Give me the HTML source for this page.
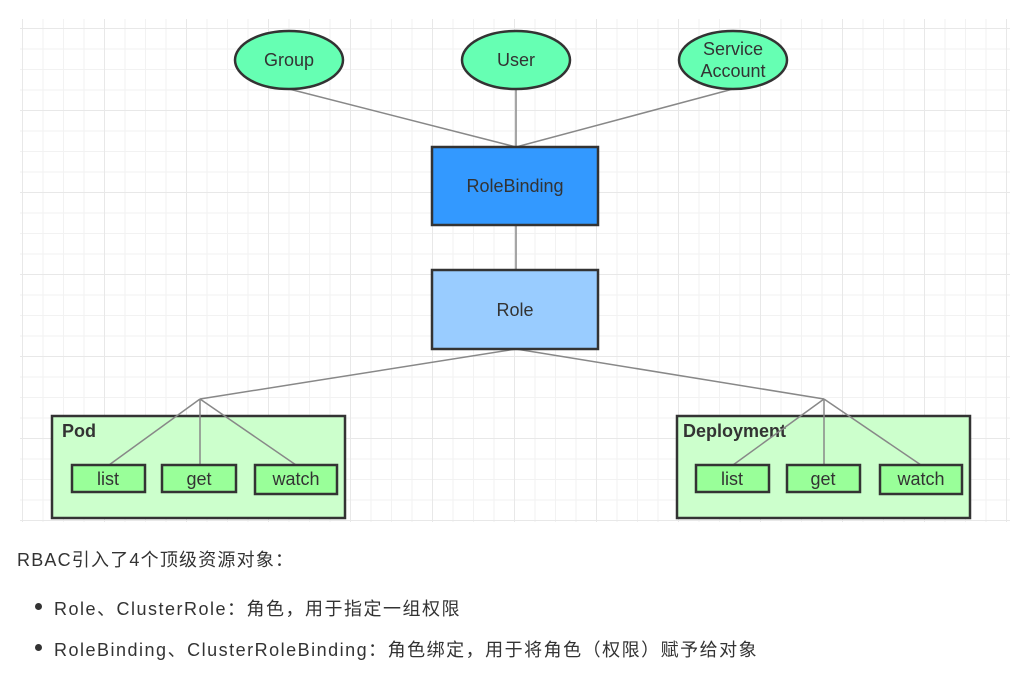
<!DOCTYPE html>
<html><head><meta charset="utf-8"><style>
html,body{margin:0;padding:0;background:#fff;width:1016px;height:682px;overflow:hidden}
.grid{position:absolute;left:20px;top:19px;width:990px;height:503px;
background-image:
linear-gradient(to right,#e8e8e8 1px,transparent 1px),
linear-gradient(to bottom,#e8e8e8 1px,transparent 1px),
linear-gradient(to right,#f2f2f2 1px,transparent 1px),
linear-gradient(to bottom,#f2f2f2 1px,transparent 1px);
background-size:82px 82px,82px 82px,20.5px 20.5px,20.5px 20.5px;
background-position:2px 9px,2px 9px,2px 9px,2px 9px;}
svg{position:absolute;left:0;top:0}
.t{position:absolute;font-family:"Liberation Sans","Noto Sans CJK SC",sans-serif;font-size:18px;letter-spacing:1.2px;color:#333;white-space:nowrap}
.dot{position:absolute;width:7px;height:7px;border-radius:50%;background:#333}
</style></head><body>
<div class="grid"></div>
<svg width="1016" height="682" font-family="Liberation Sans, sans-serif" font-size="18" fill="#333">
<g stroke="#888" stroke-width="1.5" fill="none">
<line x1="289" y1="89" x2="516" y2="147"/>
<line x1="516" y1="89" x2="516" y2="147"/>
<line x1="733" y1="89" x2="516" y2="147"/>
<line x1="516" y1="225" x2="516" y2="270"/>
<line x1="516" y1="349" x2="200" y2="399"/>
<line x1="516" y1="349" x2="824" y2="399"/>
</g>
<ellipse cx="289" cy="60" rx="54" ry="29" fill="#66ffb3" stroke="#333" stroke-width="2.5"/>
<ellipse cx="516" cy="60" rx="54" ry="29" fill="#66ffb3" stroke="#333" stroke-width="2.5"/>
<ellipse cx="733" cy="60" rx="54" ry="29" fill="#66ffb3" stroke="#333" stroke-width="2.5"/>
<text x="289" y="66" text-anchor="middle">Group</text>
<text x="516" y="66" text-anchor="middle">User</text>
<text x="733" y="55" text-anchor="middle">Service</text>
<text x="733" y="77" text-anchor="middle">Account</text>
<rect x="432" y="147" width="166" height="78" fill="#3399ff" stroke="#333" stroke-width="2.5"/>
<text x="515" y="192" text-anchor="middle">RoleBinding</text>
<rect x="432" y="270" width="166" height="79" fill="#99ccff" stroke="#333" stroke-width="2.5"/>
<text x="515" y="316" text-anchor="middle">Role</text>
<rect x="52" y="416" width="293" height="102" fill="#ccffcc" stroke="#333" stroke-width="2.5"/>
<rect x="677" y="416" width="293" height="102" fill="#ccffcc" stroke="#333" stroke-width="2.5"/>
<text x="62" y="437" font-weight="bold">Pod</text>
<text x="683" y="437" font-weight="bold">Deployment</text>
<g stroke="#888" stroke-width="1.5" fill="none">
<line x1="200" y1="399" x2="109" y2="465"/>
<line x1="200" y1="399" x2="200" y2="465"/>
<line x1="200" y1="399" x2="296" y2="465"/>
<line x1="824" y1="399" x2="733" y2="465"/>
<line x1="824" y1="399" x2="824" y2="465"/>
<line x1="824" y1="399" x2="921" y2="465"/>
</g>
<g fill="#99ff99" stroke="#333" stroke-width="2.5">
<rect x="72" y="465" width="73" height="27"/>
<rect x="162" y="465" width="74" height="27"/>
<rect x="255" y="465" width="82" height="29"/>
<rect x="696" y="465" width="73" height="27"/>
<rect x="787" y="465" width="73" height="27"/>
<rect x="880" y="465" width="82" height="29"/>
</g>
<text x="108" y="485" text-anchor="middle">list</text>
<text x="199" y="485" text-anchor="middle">get</text>
<text x="296" y="485" text-anchor="middle">watch</text>
<text x="732" y="485" text-anchor="middle">list</text>
<text x="823" y="485" text-anchor="middle">get</text>
<text x="921" y="485" text-anchor="middle">watch</text>
</svg>
<div class="t" style="left:17px;top:546px">RBAC引入了4个顶级资源对象：</div>
<div class="dot" style="left:35px;top:603px"></div>
<div class="t" style="left:54px;top:595px;letter-spacing:1.5px">Role、ClusterRole：角色，用于指定一组权限</div>
<div class="dot" style="left:35px;top:644px"></div>
<div class="t" style="left:54px;top:636px;letter-spacing:1.5px">RoleBinding、ClusterRoleBinding：角色绑定，用于将角色（权限）赋予给对象</div>
</body></html>
